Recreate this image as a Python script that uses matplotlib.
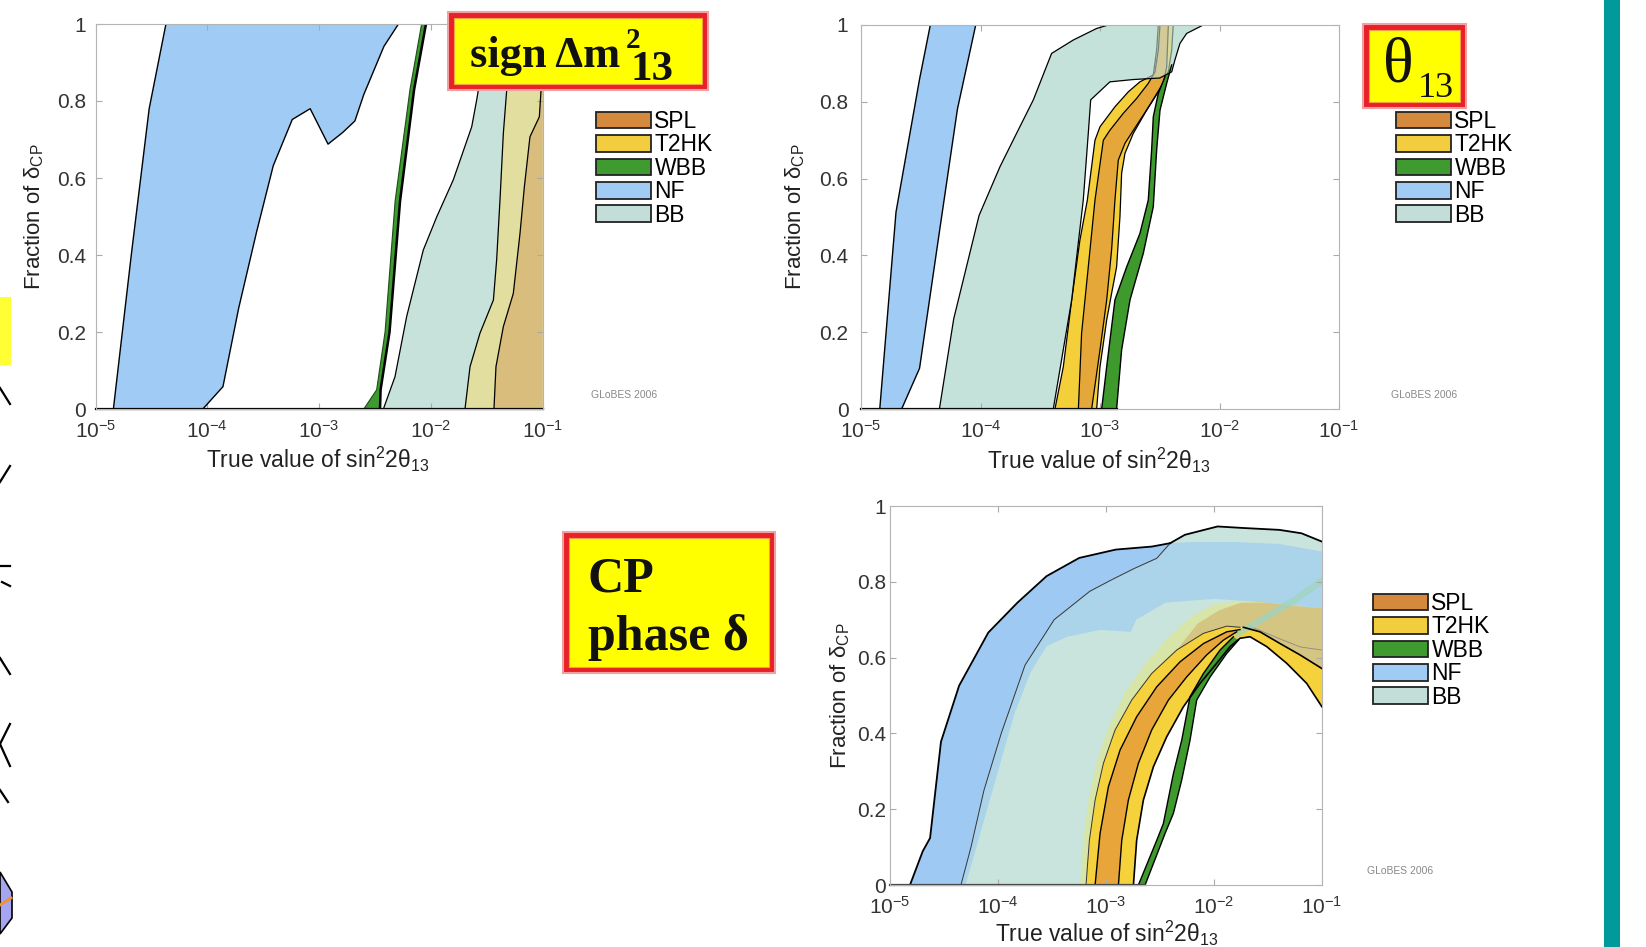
import matplotlib
matplotlib.use('Agg')
import matplotlib.pyplot as plt
from matplotlib.patches import Rectangle, Patch
from matplotlib.lines import Line2D
import matplotlib.ticker as mticker
import numpy as np

W, H = 1646, 947

plt.rcParams['font.family'] = ['Liberation Sans', 'DejaVu Sans']
plt.rcParams['mathtext.fontset'] = 'custom'
plt.rcParams['mathtext.rm'] = 'Liberation Sans'
plt.rcParams['mathtext.it'] = 'Liberation Sans:italic'
plt.rcParams['mathtext.bf'] = 'Liberation Sans:bold'

# x values are log10 of sin^2(2 theta13), y is the fraction of delta_CP
x_tick_exp = [-5, -4, -3, -2, -1]
y_ticks = [0, 0.2, 0.4, 0.6, 0.8, 1.0]
y_tick_labels = ['0', '0.2', '0.4', '0.6', '0.8', '1']
legend_names = ['SPL', 'T2HK', 'WBB', 'NF', 'BB']
legend_colors = ['#d4893c', '#f2cd3e', '#3f9a2f', '#a0cbf4', '#c3ddd8']

# ---- panel 1: sign of dm^2_13 ----
p1_nf_left_x = [-4.84, -4.68, -4.52, -4.37]
p1_nf_left_y = [0.0, 0.40, 0.78, 1.0]
p1_nf_right_x = [-2.29, -2.42, -2.60, -2.68, -2.79, -2.92, -3.08, -3.24, -3.41, -3.56, -3.72, -3.86, -4.04]
p1_nf_right_y = [1.0, 0.942, 0.817, 0.748, 0.718, 0.688, 0.780, 0.752, 0.632, 0.459, 0.261, 0.058, 0.0]
p1_wbb_left_x = [-2.60, -2.485, -2.41, -2.32, -2.187, -2.083]
p1_wbb_right_x = [-2.455, -2.45, -2.37, -2.276, -2.15, -2.044]
p1_wbb_y = [0.0, 0.05, 0.20, 0.54, 0.83, 1.0]
p1_bb_x = [-2.425, -2.321, -2.217, -2.068, -1.948, -1.80, -1.635, -1.591, -1.576, -1.50]
p1_bb_y = [0.0, 0.084, 0.240, 0.413, 0.499, 0.595, 0.733, 0.802, 0.828, 1.0]
p1_t2hk_x = [-1.695, -1.650, -1.561, -1.441, -1.412, -1.382, -1.352, -1.322, -1.28]
p1_t2hk_y = [0.0, 0.110, 0.197, 0.283, 0.387, 0.543, 0.716, 0.828, 1.0]
p1_spl_x = [-1.436, -1.418, -1.352, -1.263, -1.203, -1.164, -1.114, -1.03, -1.015, -1.0]
p1_spl_y = [0.0, 0.110, 0.214, 0.30, 0.456, 0.577, 0.707, 0.759, 0.828, 0.9]

# ---- panel 2: theta13 ----
p2_nf_left_x = [-4.843, -4.707, -4.51, -4.42]
p2_nf_left_y = [0.0, 0.513, 0.859, 1.0]
p2_nf_right_x = [-4.04, -4.193, -4.344, -4.51, -4.66]
p2_nf_right_y = [1.0, 0.781, 0.461, 0.106, 0.0]
p2_bb_left_x = [-4.344, -4.224, -4.012, -3.837, -3.698, -3.558, -3.405, -3.223, -3.028, -2.93]
p2_bb_left_y = [0.0, 0.235, 0.504, 0.631, 0.718, 0.805, 0.926, 0.961, 0.991, 1.0]
p2_bb_right_x = [-2.136, -2.275, -2.331, -2.373, -2.40, -2.50, -2.721, -2.917, -3.078, -3.098, -3.140, -3.237, -3.391]
p2_bb_right_y = [1.0, 0.978, 0.952, 0.909, 0.878, 0.862, 0.858, 0.852, 0.805, 0.718, 0.544, 0.284, 0.0]
p2_t2hk_left_x = [-3.377, -3.307, -3.237, -3.168, -3.106, -3.042, -3.0, -2.875, -2.763, -2.666, -2.554, -2.526, -2.512]
p2_t2hk_left_y = [0.0, 0.110, 0.284, 0.44, 0.544, 0.70, 0.735, 0.787, 0.826, 0.852, 0.870, 0.935, 1.0]
p2_t2hk_right_x = [-2.387, -2.40, -2.428, -2.498, -2.61, -2.721, -2.791, -2.819, -2.833, -2.861, -2.903, -2.944, -3.0, -3.028]
p2_t2hk_right_y = [1.0, 0.935, 0.878, 0.835, 0.778, 0.718, 0.666, 0.614, 0.501, 0.370, 0.301, 0.232, 0.110, 0.0]
p2_spl_left_x = [-3.181, -3.154, -3.098, -3.042, -2.972, -2.917, -2.805, -2.693, -2.596, -2.54, -2.512, -2.498]
p2_spl_left_y = [0.0, 0.197, 0.370, 0.544, 0.70, 0.726, 0.770, 0.809, 0.848, 0.878, 0.935, 1.0]
p2_spl_right_x = [-2.428, -2.442, -2.47, -2.554, -2.666, -2.791, -2.847, -2.875, -2.903, -2.944, -3.0, -3.07]
p2_spl_right_y = [1.0, 0.891, 0.848, 0.805, 0.752, 0.692, 0.648, 0.544, 0.414, 0.284, 0.154, 0.0]
p2_wbb_left_x = [-2.986, -2.944, -2.875, -2.777, -2.666, -2.596, -2.568, -2.554, -2.512, -2.456]
p2_wbb_left_y = [0.0, 0.110, 0.284, 0.370, 0.457, 0.544, 0.674, 0.761, 0.822, 0.865]
p2_wbb_right_x = [-2.40, -2.442, -2.498, -2.526, -2.554, -2.638, -2.749, -2.819, -2.861]
p2_wbb_right_y = [0.896, 0.848, 0.778, 0.674, 0.527, 0.405, 0.284, 0.154, 0.0]

# ---- panel 3: CP phase ----
p3_nf_outer_x = [-4.815, -4.697, -4.629, -4.528, -4.36, -4.09, -3.82, -3.55, -3.248, -2.91, -2.574, -2.405]
p3_nf_outer_y = [0.0, 0.089, 0.124, 0.378, 0.526, 0.666, 0.745, 0.815, 0.863, 0.885, 0.893, 0.902]
p3_nf_top_x = [-2.2, -1.8, -1.4, -1.0]
p3_nf_top_y = [0.905, 0.905, 0.90, 0.88]
p3_nf_inner_x = [-4.30, -4.15, -4.0, -3.85, -3.70, -3.55, -3.36, -3.056, -2.77, -2.72, -2.45, -2.0, -1.5, -1.0]
p3_nf_inner_y = [0.0, 0.15, 0.30, 0.45, 0.56, 0.63, 0.655, 0.673, 0.668, 0.70, 0.745, 0.755, 0.745, 0.73]
p3_bb_x = [-4.343, -4.25, -4.13, -3.97, -3.75, -3.48, -3.15, -2.95, -2.74, -2.53, -2.405,
           -2.27, -1.967, -1.73, -1.394, -1.19, -1.0]
p3_bb_y = [0.0, 0.10, 0.25, 0.40, 0.58, 0.70, 0.775, 0.805, 0.835, 0.862, 0.902,
           0.924, 0.946, 0.942, 0.937, 0.928, 0.906]
p3_glow_x = [-3.24, -3.21, -3.16, -3.08, -2.97, -2.82, -2.62, -2.40, -2.20, -2.0, -1.75, -1.5, -1.2, -1.0]
p3_glow_y = [0.0, 0.12, 0.23, 0.33, 0.42, 0.51, 0.59, 0.66, 0.71, 0.74, 0.75, 0.745, 0.735, 0.73]
p3_tan_x = [-2.345, -2.15, -1.95, -1.75, -1.5, -1.2, -1.0]
p3_tan_y = [0.620, 0.690, 0.725, 0.745, 0.745, 0.735, 0.73]
p3_t2hk_out_x = [-3.185, -3.154, -3.101, -3.024, -2.916, -2.762, -2.577, -2.345, -2.098, -1.882, -1.759]
p3_t2hk_out_y = [0.0, 0.118, 0.224, 0.321, 0.409, 0.488, 0.558, 0.620, 0.664, 0.683, 0.680]
p3_t2hk_up_x = [-1.728, -1.574, -1.388, -1.203, -1.0]
p3_t2hk_up_y = [0.680, 0.668, 0.637, 0.607, 0.571]
p3_t2hk_in_x = [-2.746, -2.716, -2.654, -2.561, -2.438, -2.284, -2.129, -1.975, -1.851, -1.759,
                -1.666, -1.512, -1.327, -1.142, -1.0]
p3_t2hk_in_y = [0.0, 0.118, 0.224, 0.312, 0.391, 0.470, 0.532, 0.585, 0.629, 0.651,
                0.655, 0.629, 0.585, 0.532, 0.470]
p3_spl_out_x = [-3.101, -3.055, -2.978, -2.870, -2.716, -2.530, -2.314, -2.098, -1.882, -1.759]
p3_spl_out_y = [0.0, 0.136, 0.259, 0.356, 0.444, 0.523, 0.589, 0.637, 0.668, 0.674]
p3_spl_in_x = [-2.885, -2.854, -2.793, -2.700, -2.577, -2.422, -2.253, -2.068, -1.913, -1.790]
p3_spl_in_y = [0.0, 0.118, 0.224, 0.321, 0.409, 0.488, 0.549, 0.607, 0.646, 0.668]
p3_ghost_x = [-1.67, -1.36, -1.20, -1.0]
p3_ghost_y = [0.683, 0.646, 0.628, 0.620]
p3_wbb_left_x = [-2.70, -2.53, -2.469, -2.376, -2.299, -2.222, -2.098, -1.944, -1.821]
p3_wbb_left_y = [0.0, 0.118, 0.162, 0.294, 0.382, 0.497, 0.558, 0.620, 0.655]
p3_wbb_right_x = [-1.774, -1.882, -2.036, -2.160, -2.222, -2.299, -2.376, -2.453, -2.638]
p3_wbb_right_y = [0.646, 0.611, 0.549, 0.488, 0.382, 0.277, 0.189, 0.136, 0.0]
p3_wbb_tail_x = [-1.80, -1.5, -1.25, -1.0]
p3_wbb_tail_hi = [0.668, 0.720, 0.763, 0.815]
p3_wbb_tail_lo = [0.650, 0.700, 0.742, 0.792]


def X(v):
    return 10.0 ** np.asarray(v, dtype=float)


def fill(ax, xs, ys, color, alpha=1.0, z=1.0):
    ax.fill(X(xs), ys, facecolor=color, edgecolor='none', alpha=alpha, zorder=z)


def line(ax, xs, ys, lw=1.0, color='k', z=2.0):
    ax.plot(X(xs), ys, color=color, lw=lw, zorder=z, solid_joinstyle='round')


fig = plt.figure(figsize=(W / 100, H / 100), dpi=100)
fig.patch.set_facecolor('white')

ax1 = fig.add_axes([95.5 / W, 1 - 409 / H, 447.2 / W, 385 / H])
ax2 = fig.add_axes([861 / W, 1 - 409 / H, 478 / W, 384 / H])
ax3 = fig.add_axes([890 / W, 1 - 885 / H, 432 / W, 379 / H])


def style(ax, ypad, xlab_xy, ylab_xy):
    ax.set_xscale('log')
    ax.set_xlim(1e-5, 1e-1)
    ax.set_ylim(0, 1)
    ax.set_xticks(X(x_tick_exp))
    ax.xaxis.set_minor_locator(mticker.NullLocator())
    ax.set_yticks(y_ticks)
    ax.set_yticklabels(y_tick_labels)
    ax.tick_params(axis='both', direction='in', length=4, width=0.8, color='#aaaaaa',
                   top=True, right=True, labelsize=15, labelcolor='#333333')
    ax.tick_params(axis='y', pad=ypad)
    ax.tick_params(axis='x', pad=8)
    for s in ax.spines.values():
        s.set_color('#b4b4b4')
        s.set_linewidth(0.8)
    ax.set_xlabel('True value of sin$^2$2θ$_{13}$', fontsize=16.5, color='#222222')
    ax.set_ylabel('Fraction of δ$_{\\rm CP}$', fontsize=16, color='#222222')
    ax.xaxis.set_label_coords(*xlab_xy)
    ax.xaxis.label.set_va('center')
    ax.yaxis.set_label_coords(*ylab_xy)
    ax.yaxis.label.set_va('center')


# ---------- panel 1 ----------
fill(ax1, p1_nf_left_x + p1_nf_right_x, p1_nf_left_y + p1_nf_right_y, '#9fcbf5')
fill(ax1, p1_bb_x + [-1.0, -1.0], p1_bb_y + [1.0, 0.0], '#c6e2da')
fill(ax1, p1_t2hk_x + [-1.0, -1.0], p1_t2hk_y + [1.0, 0.0], '#e2dea0')
fill(ax1, p1_spl_x + [-1.0, -1.0], p1_spl_y + [1.0, 0.0], '#d8bd7c')
fill(ax1, p1_wbb_left_x + p1_wbb_right_x[::-1], p1_wbb_y + p1_wbb_y[::-1], '#3d9a2e', z=1.5)
line(ax1, p1_nf_left_x, p1_nf_left_y)
line(ax1, p1_nf_right_x, p1_nf_right_y)
line(ax1, p1_bb_x, p1_bb_y, lw=0.9)
line(ax1, p1_t2hk_x, p1_t2hk_y, lw=0.9)
line(ax1, p1_spl_x, p1_spl_y, lw=0.9)
line(ax1, p1_wbb_left_x, p1_wbb_y, lw=0.8, color='#1d4d16')
line(ax1, p1_wbb_right_x, p1_wbb_y, lw=1.8)
ax1.plot(X([-5, -1]), [0, 0], color='k', lw=1.6, zorder=2.2, clip_on=False)
style(ax1, 7, (0.4975, -0.132), (-0.1375, 0.5))

# ---------- panel 2 ----------
fill(ax2, p2_nf_left_x + p2_nf_right_x, p2_nf_left_y + p2_nf_right_y, '#9fcbf5')
fill(ax2, p2_bb_left_x + p2_bb_right_x, p2_bb_left_y + p2_bb_right_y, '#c5e2da')
fill(ax2, p2_t2hk_left_x + p2_t2hk_right_x, p2_t2hk_left_y + p2_t2hk_right_y, '#f5cf3a', z=1.1)
fill(ax2, p2_spl_left_x + p2_spl_right_x, p2_spl_left_y + p2_spl_right_y, '#e6a73a', z=1.2)
line(ax2, p2_t2hk_left_x, p2_t2hk_left_y, lw=0.9, z=1.3)
line(ax2, p2_t2hk_right_x, p2_t2hk_right_y, lw=0.9, z=1.3)
line(ax2, p2_spl_left_x, p2_spl_left_y, lw=0.9, z=1.3)
line(ax2, p2_spl_right_x, p2_spl_right_y, lw=0.9, z=1.3)
fill(ax2, p2_bb_left_x + p2_bb_right_x, p2_bb_left_y + p2_bb_right_y, '#c5e2da', alpha=0.6, z=1.4)
fill(ax2, p2_wbb_left_x + p2_wbb_right_x, p2_wbb_left_y + p2_wbb_right_y, '#3f9a2e', z=1.5)
line(ax2, p2_nf_left_x, p2_nf_left_y)
line(ax2, p2_nf_right_x, p2_nf_right_y)
line(ax2, p2_bb_left_x, p2_bb_left_y, lw=0.9)
line(ax2, p2_bb_right_x, p2_bb_right_y, lw=0.9)
line(ax2, p2_wbb_left_x, p2_wbb_left_y, lw=1.0)
line(ax2, p2_wbb_right_x, p2_wbb_right_y, lw=1.0)
ax2.plot(X([-5, p2_wbb_right_x[-1]]), [0, 0], color='k', lw=1.6, zorder=2.2, clip_on=False)
style(ax2, 9, (0.498, -0.133), (-0.138, 0.5))

# ---------- panel 3 ----------
n_meet = 11  # index where BB edge meets NF outer edge
fill(ax3, p3_bb_x + p3_t2hk_up_x[::-1] + p3_t2hk_out_x[::-1],
     p3_bb_y + p3_t2hk_up_y[::-1] + p3_t2hk_out_y[::-1], '#c8e4dc', z=1.0)
fill(ax3, p3_nf_outer_x + p3_bb_x[:n_meet][::-1],
     p3_nf_outer_y + p3_bb_y[:n_meet][::-1], '#9dc9f2', z=1.05)
fill(ax3, p3_bb_x[:n_meet] + p3_nf_top_x + p3_nf_inner_x[::-1],
     p3_bb_y[:n_meet] + p3_nf_top_y + p3_nf_inner_y[::-1], '#abd4ea', z=1.1)
fill(ax3, p3_glow_x + p3_t2hk_up_x[::-1] + p3_t2hk_out_x[::-1],
     p3_glow_y + p3_t2hk_up_y[::-1] + p3_t2hk_out_y[::-1], '#f2e85a', alpha=0.40, z=1.2)
fill(ax3, p3_tan_x + p3_t2hk_up_x[::-1] + p3_t2hk_out_x[::-1][:4],
     p3_tan_y + p3_t2hk_up_y[::-1] + p3_t2hk_out_y[::-1][:4], '#d08a40', alpha=0.35, z=1.25)
line(ax3, p3_ghost_x, p3_ghost_y, lw=0.6, color='#8a8a80', z=1.27)
fill(ax3, p3_t2hk_out_x + p3_t2hk_up_x + p3_t2hk_in_x[::-1],
     p3_t2hk_out_y + p3_t2hk_up_y + p3_t2hk_in_y[::-1], '#f5d13c', z=1.3)
fill(ax3, p3_spl_out_x + p3_spl_in_x[::-1], p3_spl_out_y + p3_spl_in_y[::-1], '#e8a53a', z=1.4)
fill(ax3, p3_wbb_tail_x + p3_wbb_tail_x[::-1], p3_wbb_tail_hi + p3_wbb_tail_lo[::-1],
     '#9fd4bf', alpha=0.75, z=1.45)
fill(ax3, p3_wbb_left_x + p3_wbb_right_x, p3_wbb_left_y + p3_wbb_right_y, '#3f9a2e', z=1.5)
line(ax3, p3_nf_outer_x, p3_nf_outer_y, lw=1.3)
line(ax3, p3_bb_x[:n_meet], p3_bb_y[:n_meet], lw=0.7, color='#333333')
line(ax3, p3_bb_x[n_meet - 1:], p3_bb_y[n_meet - 1:], lw=1.3)
line(ax3, p3_t2hk_out_x, p3_t2hk_out_y, lw=0.7, color='#333333')
line(ax3, p3_t2hk_up_x, p3_t2hk_up_y, lw=1.2)
line(ax3, p3_t2hk_in_x, p3_t2hk_in_y, lw=1.2)
line(ax3, p3_spl_out_x, p3_spl_out_y, lw=1.0)
line(ax3, p3_spl_in_x, p3_spl_in_y, lw=1.0)
line(ax3, p3_wbb_left_x, p3_wbb_left_y, lw=1.0)
line(ax3, p3_wbb_right_x, p3_wbb_right_y, lw=1.0)
ax3.plot(X([-5, p3_wbb_right_x[-1]]), [0, 0], color='#444444', lw=1.6, zorder=2.2, clip_on=False)
style(ax3, 3, (0.502, -0.129), (-0.116, 0.5))


# ---------- legends and small notes ----------
def add_legend(px, py):
    handles = [Patch(facecolor=c, edgecolor='#222222', lw=1.3) for c in legend_colors]
    fig.legend(handles, legend_names, loc='upper left', bbox_to_anchor=(px / W, 1 - py / H),
               frameon=False, fontsize=16.5, handlelength=2.4, handleheight=0.75,
               labelspacing=0.02, handletextpad=0.15, borderpad=0, borderaxespad=0)


add_legend(596, 110)
add_legend(1396, 110)
add_legend(1373, 592)

for gx, gy in [(591, 395), (1391, 395), (1367, 871)]:
    fig.text(gx / W, 1 - gy / H, 'GLoBES 2006', fontsize=7.5, color='#888888', va='center')


# ---------- yellow title boxes ----------
def label_box(x0, y0, x1, y1):
    fig.add_artist(Rectangle((x0 / W, 1 - y1 / H), (x1 - x0) / W, (y1 - y0) / H,
                             transform=fig.transFigure, facecolor='#e8202a',
                             edgecolor='#f2a0a0', lw=1.5, zorder=5))
    m = 6
    fig.add_artist(Rectangle(((x0 + m) / W, 1 - (y1 - m) / H), (x1 - x0 - 2 * m) / W,
                             (y1 - y0 - 2 * m) / H, transform=fig.transFigure,
                             facecolor='#ffff00', edgecolor='#f5a040', lw=0.8, zorder=6))


def box_text(px, py, s, size, weight='bold'):
    fig.text(px / W, 1 - py / H, s, fontsize=size, fontweight=weight, ha='left', va='baseline',
             family=['Liberation Serif', 'DejaVu Serif'], color='#111111', zorder=7)


label_box(448, 12, 708, 90)
box_text(470, 67, 'sign Δm', 32)
box_text(626, 48, '2', 21)
box_text(630, 80, '13', 31)

label_box(1363, 24, 1466, 108)
box_text(1383, 82, 'θ', 46, weight='normal')
box_text(1418, 97, '13', 26, weight='normal')

label_box(563, 532, 775, 673)
box_text(588, 591, 'CP', 36)
box_text(588, 650, 'phase δ', 36)

# ---------- slide decorations ----------
fig.add_artist(Rectangle((1604 / W, 0), 16 / W, 1, transform=fig.transFigure,
                         facecolor='#009a9a', edgecolor='none'))
fig.add_artist(Rectangle((0, 1 - 365 / H), 10.5 / W, 68 / H, transform=fig.transFigure,
                         facecolor='#ffff33', edgecolor='none'))
deco_segments = [((0, 388), (10, 404)), ((0, 482), (10, 466)), ((0, 566), (10, 566)),
                 ((2, 582), (10, 586)), ((0, 658), (10, 674)), ((10, 724), (0, 744)),
                 ((0, 744), (10, 766)), ((0, 790), (8, 802))]
for (xa, ya), (xb, yb) in deco_segments:
    fig.add_artist(Line2D([xa / W, xb / W], [1 - ya / H, 1 - yb / H], transform=fig.transFigure,
                          color='k', lw=1.6))
fig.add_artist(plt.Polygon([(0, 1 - 872 / H), (12 / W, 1 - 892 / H), (12 / W, 1 - 918 / H),
                            (0, 1 - 934 / H)], closed=True, transform=fig.transFigure,
                           facecolor='#a6a6f0', edgecolor='k', lw=1.2))
fig.add_artist(Line2D([0, 11 / W], [1 - 905 / H, 1 - 898 / H], transform=fig.transFigure,
                      color='#f09030', lw=2))

fig.savefig('out.png', dpi=100, facecolor='white')
